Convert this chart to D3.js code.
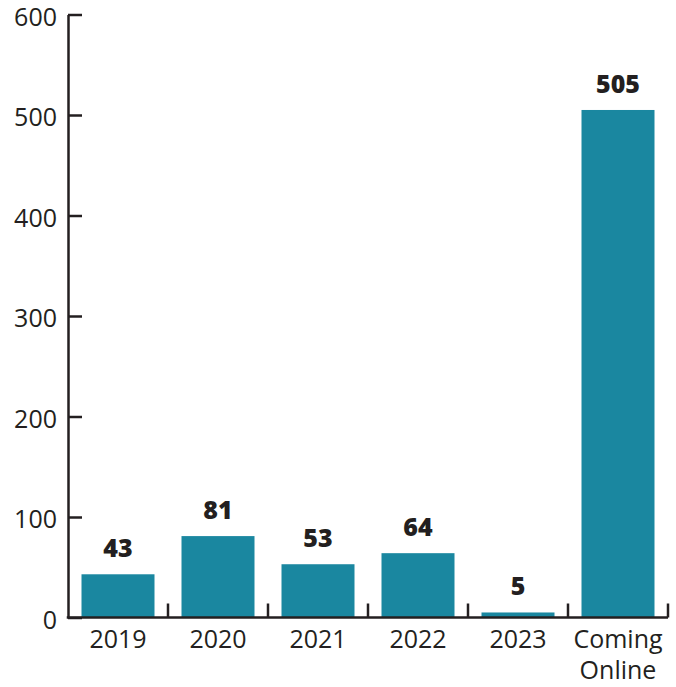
<!DOCTYPE html>
<html>
<head>
<meta charset="utf-8">
<script src="https://cdnjs.cloudflare.com/ajax/libs/d3/7.8.5/d3.min.js"></script>
<style>
  html, body { margin: 0; padding: 0; background: #fff; }
  text { font-family: "Open Sans", sans-serif; fill: #231f20; }
</style>
</head>
<body>
<svg id="chart"></svg>
<script>
var categories = ["2019", "2020", "2021", "2022", "2023", "Coming Online"];
var values = [43, 81, 53, 64, 5, 505];
var yTicks = [0, 100, 200, 300, 400, 500, 600];

var W = 676, H = 687,
    marginLeft = 68, marginTop = 14.5, plotW = 600, plotH = 603;

var svg = d3.select("#chart").attr("width", W).attr("height", H);
var g = svg.append("g").attr("transform", "translate(" + marginLeft + "," + marginTop + ")");

var x = d3.scaleBand().domain(categories).range([0, plotW])
          .paddingInner(0.27).paddingOuter(0.135);
var y = d3.scaleLinear().domain([0, 600]).range([plotH, 0]);

var ink = "#231f20";

// bars
g.selectAll("rect.bar")
  .data(values)
  .enter().append("rect")
  .attr("class", "bar")
  .attr("x", function(d, i){ return x(categories[i]); })
  .attr("y", function(d){ return y(d); })
  .attr("width", x.bandwidth())
  .attr("height", function(d){ return y(0) - y(d); })
  .style("fill", "#1a87a0");

// value labels
g.selectAll("text.val")
  .data(values)
  .enter().append("text")
  .attr("class", "val")
  .attr("x", function(d, i){ return x(categories[i]) + x.bandwidth() / 2; })
  .attr("y", function(d){ return y(d) - 17; })
  .attr("text-anchor", "middle")
  .style("font-size", "25px")
  .style("font-weight", 800)
  .text(function(d){ return d; });

// y axis
var yAxis = g.append("g").call(
  d3.axisLeft(y).tickValues(yTicks).tickSizeInner(-14).tickSizeOuter(0).tickPadding(11)
);
yAxis.select(".domain").attr("stroke", ink).attr("stroke-width", 2.5);
yAxis.selectAll(".tick line").attr("stroke", ink).attr("stroke-width", 2.5);
yAxis.selectAll(".tick text")
  .style("font-size", "25px").style("font-family", "Open Sans, sans-serif")
  .attr("fill", ink).attr("dy", "0.42em");

// x axis line
var xAxis = g.append("g").attr("transform", "translate(0," + plotH + ")");
xAxis.append("line")
  .attr("x1", -1.25).attr("x2", plotW)
  .attr("stroke", ink).attr("stroke-width", 2.5);

// boundary ticks between categories (pointing up)
var step = x.step();
xAxis.selectAll("line.bt")
  .data(categories)
  .enter().append("line")
  .attr("class", "bt")
  .attr("x1", function(d){ return x(d) + x.bandwidth() + (step - x.bandwidth()) / 2; })
  .attr("x2", function(d){ return x(d) + x.bandwidth() + (step - x.bandwidth()) / 2; })
  .attr("y1", 0).attr("y2", -14)
  .attr("stroke", ink).attr("stroke-width", 2.5);

// category labels
xAxis.selectAll("text.cat")
  .data(categories)
  .enter().append("text")
  .attr("class", "cat")
  .attr("text-anchor", "middle")
  .attr("x", function(d){ return x(d) + x.bandwidth() / 2; })
  .style("font-size", "25px")
  .each(function(d){
    var words = d.split(" ");
    var t = d3.select(this);
    words.forEach(function(w, k){
      t.append("tspan")
        .attr("x", x(d) + x.bandwidth() / 2)
        .attr("y", 30 + k * 31)
        .text(w);
    });
  });
</script>
</body>
</html>
